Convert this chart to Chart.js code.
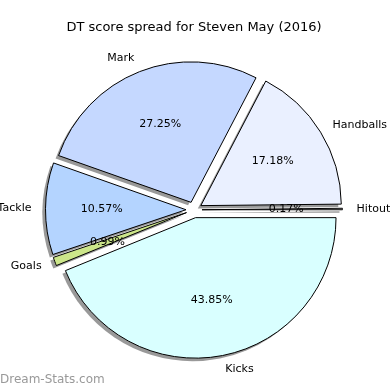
<!DOCTYPE html>
<html>
<head>
<meta charset="utf-8">
<script src="https://cdn.jsdelivr.net/npm/chart.js@4/dist/chart.umd.min.js"></script>
<style>
html,body{margin:0;padding:0;background:#fff;}
#wrap{position:relative;width:390px;height:390px;}
</style>
</head>
<body>
<div id="wrap"><canvas id="c" width="390" height="390"></canvas></div>
<script>
// Data in matplotlib order (counter-clockwise from 3 o'clock)
const categories = ['Hitout', 'Handballs', 'Mark', 'Tackle', 'Goals', 'Kicks'];
const values = [0.17, 17.18, 27.25, 10.57, 0.99, 43.85];
const pctLabels = ['0.17%', '17.18%', '27.25%', '10.57%', '0.99%', '43.85%'];
const sliceColors = ['#d0d0d0', '#eaf0ff', '#c5d8ff', '#b4d4ff', '#cce68a', '#d9ffff'];
const titleText = 'DT score spread for Steven May (2016)';
const watermark = 'Dream-Stats.com';

// Chart.js draws clockwise, so reverse order
const rLabels = categories.slice().reverse();
const rValues = values.slice().reverse();
const rPct = pctLabels.slice().reverse();
const rColors = sliceColors.slice().reverse();

const EXPLODE = 8;
const FONT = '"DejaVu Sans", sans-serif';

const explodePlugin = {
  id: 'explode',
  afterDatasetUpdate(chart, args) {
    const meta = chart.getDatasetMeta(args.index);
    meta.data.forEach(arc => {
      const mid = (arc.startAngle + arc.endAngle) / 2;
      arc.x = arc.x + Math.cos(mid) * EXPLODE;
      arc.y = arc.y + Math.sin(mid) * EXPLODE;
    });
  }
};

const shadowPlugin = {
  id: 'shadow',
  beforeDatasetsDraw(chart) {
    const ctx = chart.ctx;
    const meta = chart.getDatasetMeta(0);
    ctx.save();
    meta.data.forEach((arc, i) => {
      ctx.beginPath();
      ctx.moveTo(arc.x - 3, arc.y + 3);
      ctx.arc(arc.x - 3, arc.y + 3, arc.outerRadius, arc.startAngle, arc.endAngle);
      ctx.closePath();
      ctx.fillStyle = 'rgba(110,110,110,0.7)';
      ctx.fill();
    });
    ctx.restore();
  }
};

const labelPlugin = {
  id: 'labels',
  afterDatasetsDraw(chart) {
    const ctx = chart.ctx;
    const meta = chart.getDatasetMeta(0);
    ctx.save();
    ctx.font = '11px ' + FONT;
    ctx.fillStyle = '#000';
    ctx.textBaseline = 'middle';
    meta.data.forEach((arc, i) => {
      const mid = (arc.startAngle + arc.endAngle) / 2;
      const R = arc.outerRadius;
      const lx = arc.x + Math.cos(mid) * R * 1.1;
      const ly = arc.y + Math.sin(mid) * R * 1.1;
      ctx.textAlign = Math.cos(mid) >= 0 ? 'left' : 'right';
      ctx.fillText(rLabels[i], lx, ly);
      const px = arc.x + Math.cos(mid) * R * 0.6;
      const py = arc.y + Math.sin(mid) * R * 0.6;
      ctx.textAlign = 'center';
      ctx.fillText(rPct[i], px, py);
    });
    ctx.font = '12px ' + FONT;
    ctx.fillStyle = '#999999';
    ctx.textAlign = 'left';
    ctx.fillText(watermark, 0, 380);
    ctx.restore();
  }
};

new Chart(document.getElementById('c'), {
  type: 'pie',
  data: {
    labels: rLabels,
    datasets: [{
      data: rValues,
      backgroundColor: rColors,
      borderColor: '#000',
      borderWidth: 1,
      offset: 0
    }]
  },
  options: {
    responsive: false,
    animation: false,
    rotation: 90,
    layout: { padding: { left: 53, right: 55, top: 0, bottom: 39 } },
    plugins: {
      legend: { display: false },
      tooltip: { enabled: false },
      title: {
        display: true,
        text: titleText,
        color: '#000',
        font: { family: FONT, size: 13, weight: 'normal' },
        padding: { top: 20, bottom: 33 }
      }
    }
  },
  plugins: [explodePlugin, shadowPlugin, labelPlugin]
});
</script>
</body>
</html>
